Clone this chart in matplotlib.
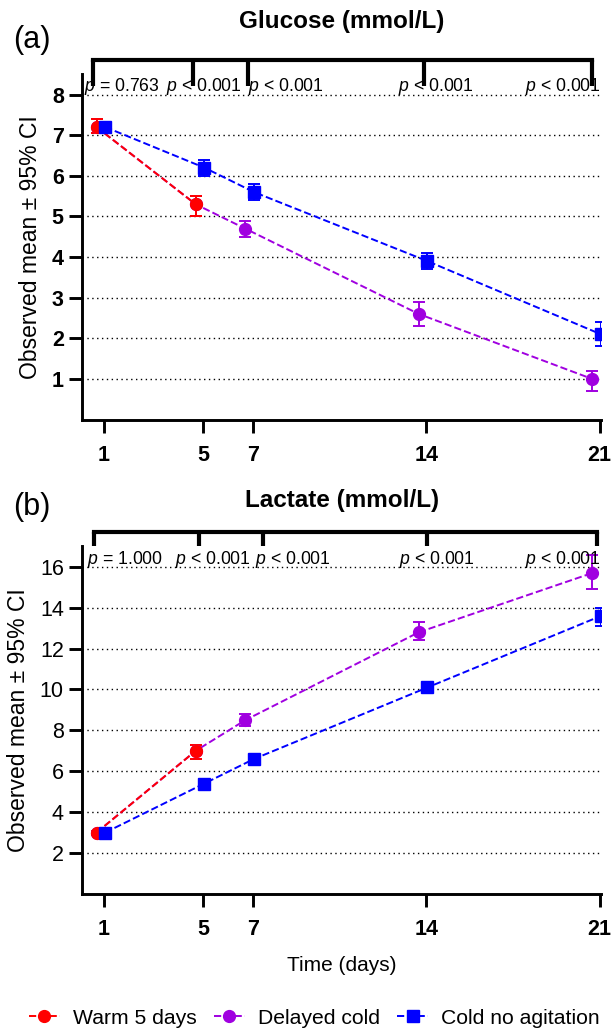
import matplotlib
matplotlib.use("Agg")
import matplotlib.pyplot as plt
from matplotlib.lines import Line2D

plt.rcParams['font.family'] = ['Liberation Sans', 'DejaVu Sans']
plt.rcParams['mathtext.fontset'] = 'custom'
plt.rcParams['mathtext.it'] = 'Liberation Sans:italic'
plt.rcParams['mathtext.rm'] = 'Liberation Sans'

# data
days = [1, 5, 7, 14, 21]
warm_days = [1, 5]
series_names = ['Warm 5 days', 'Delayed cold', 'Cold no agitation']

glu_warm = [7.2, 5.3]
glu_warm_lo = [7.05, 5.0]
glu_warm_hi = [7.4, 5.5]
glu_delayed = [7.2, 5.3, 4.7, 2.6, 1.0]
glu_delayed_lo = [7.05, 5.0, 4.5, 2.3, 0.7]
glu_delayed_hi = [7.4, 5.5, 4.9, 2.9, 1.2]
glu_cold = [7.2, 6.2, 5.6, 3.9, 2.1]
glu_cold_lo = [7.05, 6.0, 5.4, 3.7, 1.8]
glu_cold_hi = [7.3, 6.4, 5.8, 4.1, 2.4]

lac_warm = [3.0, 7.0]
lac_warm_lo = [2.9, 6.6]
lac_warm_hi = [3.1, 7.3]
lac_delayed = [3.0, 7.0, 8.5, 12.8, 15.7]
lac_delayed_lo = [2.9, 6.6, 8.2, 12.4, 14.9]
lac_delayed_hi = [3.1, 7.3, 8.8, 13.3, 16.6]
lac_cold = [3.0, 5.4, 6.6, 10.1, 13.6]
lac_cold_lo = [2.9, 5.3, 6.5, 9.9, 13.1]
lac_cold_hi = [3.1, 5.5, 6.7, 10.3, 14.0]

glu_p = ['$p$ = 0.763', '$p$ < 0.001', '$p$ < 0.001', '$p$ < 0.001', '$p$ < 0.001']
glu_p_x = [0.2, 3.5, 6.8, 12.85, 18.0]
glu_bracket_x = [0.55, 4.6, 6.8, 13.9, 20.7]
lac_p = ['$p$ = 1.000', '$p$ < 0.001', '$p$ < 0.001', '$p$ < 0.001', '$p$ < 0.001']
lac_p_x = [0.3, 3.85, 7.1, 12.9, 18.0]
lac_bracket_x = [0.6, 4.85, 7.4, 14.05, 20.9]

RED = '#ff0000'
PURPLE = '#a000e0'
BLUE = '#0000ff'


def err(v, lo, hi):
    return [[a - b for a, b in zip(v, lo)], [c - a for a, c in zip(v, hi)]]


def panel(ax, warm, wlo, whi, dl, dlo, dhi, cd, clo, chi, ylim, yticks, ybold,
          ptxt, px, bx, ptop, bry, brdrop):
    off = -0.3
    kw = dict(ls='--', lw=1.4, elinewidth=1.4, capsize=4, capthick=1.4, markersize=8.5)
    ax.errorbar([d + off for d in days], dl, yerr=err(dl, dlo, dhi), color=PURPLE, marker='o', **kw)
    ax.errorbar([d + off for d in warm_days], warm, yerr=err(warm, wlo, whi), color=RED, marker='o', **kw)
    ax.errorbar([d + 0.05 for d in days], cd, yerr=err(cd, clo, chi), color=BLUE, marker='s', **kw)

    ax.set_xlim(0.1, 21.05)
    ax.set_ylim(*ylim)
    ax.set_xticks(days)
    ax.set_xticklabels([str(d) for d in days], fontweight='bold', fontsize=15.5)
    ax.set_yticks(yticks)
    ax.set_yticklabels([str(t) for t in yticks], fontweight='bold' if ybold else 'normal', fontsize=15.5)
    for t in yticks:
        ax.axhline(t, color='black', ls=(0, (1, 2.5)), lw=1.0, zorder=0)
    for s in ['top', 'right']:
        ax.spines[s].set_visible(False)
    for s in ['left', 'bottom']:
        ax.spines[s].set_linewidth(2.1)
    ax.tick_params(axis='x', width=2.1, length=9.4, direction='out', pad=9)
    ax.tick_params(axis='y', width=2.1, length=9.4, direction='out', pad=3.5)
    ax.set_ylabel('Observed mean ± 95% CI', fontsize=16.5, labelpad=7)

    # significance bracket above the plot
    ax.plot([bx[0], bx[-1]], [bry, bry], color='black', lw=3, clip_on=False, solid_capstyle='projecting')
    for x in bx:
        ax.plot([x, x], [bry, brdrop], color='black', lw=3, clip_on=False, solid_capstyle='butt')
    for x, s in zip(px, ptxt):
        ax.text(x, ptop, s, fontsize=12.7, ha='left', va='bottom')


fig = plt.figure(figsize=(6.16, 10.31), dpi=100)
ax1 = fig.add_axes([0.1326, 0.593, 0.843, 0.335])
ax2 = fig.add_axes([0.1326, 0.133, 0.843, 0.337])

panel(ax1, glu_warm, glu_warm_lo, glu_warm_hi, glu_delayed, glu_delayed_lo, glu_delayed_hi,
      glu_cold, glu_cold_lo, glu_cold_hi, (0, 8.5), [1, 2, 3, 4, 5, 6, 7, 8], True,
      glu_p, glu_p_x, glu_bracket_x, 7.93, 8.85, 8.2)
panel(ax2, lac_warm, lac_warm_lo, lac_warm_hi, lac_delayed, lac_delayed_lo, lac_delayed_hi,
      lac_cold, lac_cold_lo, lac_cold_hi, (0, 17), [2, 4, 6, 8, 10, 12, 14, 16], False,
      lac_p, lac_p_x, lac_bracket_x, 15.85, 17.73, 17.0)

fig.text(0.555, 0.9787, 'Glucose (mmol/L)', fontweight='bold', fontsize=17.5, ha='center', va='center')
fig.text(0.555, 0.515, 'Lactate (mmol/L)', fontweight='bold', fontsize=17.5, ha='center', va='center')
fig.text(0.051, 0.961, '(a)', fontsize=22, ha='center', va='center')
fig.text(0.051, 0.5085, '(b)', fontsize=22, ha='center', va='center')

ax2.set_xlabel('Time (days)', fontsize=15)
ax2.xaxis.set_label_coords(0.5, -0.18)

handles = [Line2D([], [], color=c, ls='--', lw=1.4, marker=m, markersize=8.5)
           for c, m in zip([RED, PURPLE, BLUE], ['o', 'o', 's'])]
fig.legend(handles, series_names, loc='center', bbox_to_anchor=(0.51, 0.0125), ncol=3,
           frameon=False, fontsize=15.2, handlelength=1.5, columnspacing=0.8, handletextpad=0.6,
           borderpad=0.1)

fig.savefig('out.png', dpi=100)
